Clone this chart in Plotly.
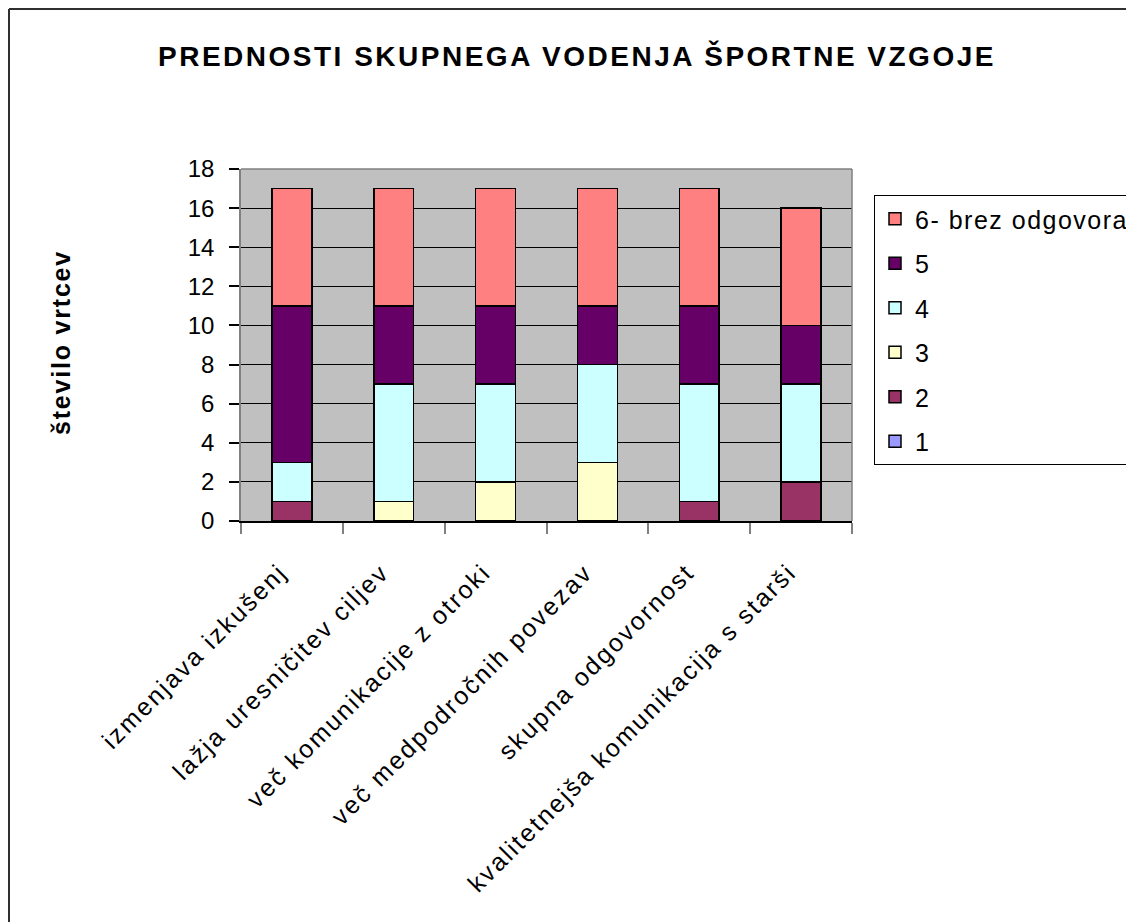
import plotly.graph_objects as go

categories = [
    "izmenjava izkušenj",
    "lažja uresničitev ciljev",
    "več komunikacije z otroki",
    "več medpodročnih povezav",
    "skupna odgovornost",
    "kvalitetnejša komunikacija s starši",
]
series_names = ["1", "2", "3", "4", "5", "6- brez odgovora"]
s1 = [0, 0, 0, 0, 0, 0]
s2 = [1, 0, 0, 0, 1, 2]
s3 = [0, 1, 2, 3, 0, 0]
s4 = [2, 6, 5, 5, 6, 5]
s5 = [8, 4, 4, 3, 4, 3]
s6 = [6, 6, 6, 6, 6, 6]
series_values = [s1, s2, s3, s4, s5, s6]
colors = ["#9999FF", "#993366", "#FFFFCC", "#CCFFFF", "#660066", "#FF8080"]
y_ticks = [0, 2, 4, 6, 8, 10, 12, 14, 16, 18]

title_text = "PREDNOSTI SKUPNEGA VODENJA ŠPORTNE VZGOJE"
y_title = "število vrtcev"

FONT = "Arial, Liberation Sans, sans-serif"


def spaced(t, sp):
    return f'<span style="letter-spacing:{sp}px">{t}</span>'


fig = go.Figure()
n = len(series_names)
for i, (name, vals, col) in enumerate(zip(series_names, series_values, colors)):
    fig.add_trace(go.Bar(
        x=categories, y=vals, name=spaced(name, 1.5),
        marker=dict(color=col, line=dict(color="black", width=1.5)),
        width=0.39, legendgroup=name, legendrank=n - i,
    ))

# page body has an 8px margin: work in screen pixels, convert to figure pixels
OFF = 8
W, H = 1134 - OFF, 922 - OFF
L, R, T, B = 241, 852, 169, 521  # plot area in screen pixels


def px(x):
    return (x - L) / (R - L)


def py(y):
    return (B - y) / (B - T)


shapes = [
    dict(type="line", xref="paper", yref="paper", x0=px(9), x1=px(9), y0=py(9), y1=py(940),
         line=dict(color="#303030", width=2)),
    dict(type="line", xref="paper", yref="paper", x0=px(9), x1=px(1150), y0=py(9), y1=py(9),
         line=dict(color="#303030", width=2)),
    dict(type="line", xref="paper", yref="paper", x0=0, x1=1, y0=1, y1=1,
         line=dict(color="#808080", width=1.5), layer="above"),
    dict(type="line", xref="paper", yref="paper", x0=1, x1=1, y0=0, y1=1,
         line=dict(color="#808080", width=1.5), layer="above"),
]

fig.update_layout(
    width=W, height=H,
    margin=dict(l=L - OFF, r=W - (R - OFF), t=T - OFF, b=H - (B - OFF), autoexpand=False),
    paper_bgcolor="white", plot_bgcolor="#C0C0C0",
    barmode="stack",
    font=dict(family=FONT, color="black", size=24),
    title=dict(text="<b>" + spaced(title_text, 2.5) + "</b>", x=(577 - OFF) / W, xanchor="center",
               y=1 - (56 - OFF) / H, yanchor="middle", xref="container", yref="container",
               font=dict(size=28, family=FONT, color="black")),
    showlegend=True,
    legend=dict(x=px(874), y=py(195), xanchor="left", yanchor="top",
                bgcolor="white", bordercolor="black", borderwidth=1,
                traceorder="grouped", tracegroupgap=9,
                font=dict(size=25, family=FONT, color="black")),
    shapes=shapes,
    annotations=[dict(text="<b>" + spaced(y_title, 1.8) + "</b>", textangle=-90,
                      xref="paper", yref="paper", x=px(61), y=py(343),
                      xanchor="center", yanchor="middle", showarrow=False,
                      font=dict(size=25, family=FONT, color="black"))],
)

fig.update_xaxes(
    type="category", tickmode="array", tickvals=categories,
    ticktext=[spaced(c, 2.2) for c in categories],
    tickangle=-45, tickson="boundaries", ticks="outside", ticklen=11,
    tickcolor="#808080", tickwidth=1.5, showline=True, linecolor="black", linewidth=1.5,
    showgrid=False, ticklabelstandoff=25, ticklabelshift=-12,
    tickfont=dict(size=25, family=FONT, color="black"),
)
fig.update_yaxes(
    range=[0, 18], tickmode="array", tickvals=y_ticks, ticks="outside", ticklen=10,
    tickcolor="black", tickwidth=1.5, showline=True, linecolor="#808080", linewidth=1.5,
    showgrid=True, gridcolor="black", gridwidth=1, zeroline=False,
    ticklabelstandoff=10,
    tickfont=dict(size=24, family=FONT, color="black"),
)

fig.write_html("out.html")
